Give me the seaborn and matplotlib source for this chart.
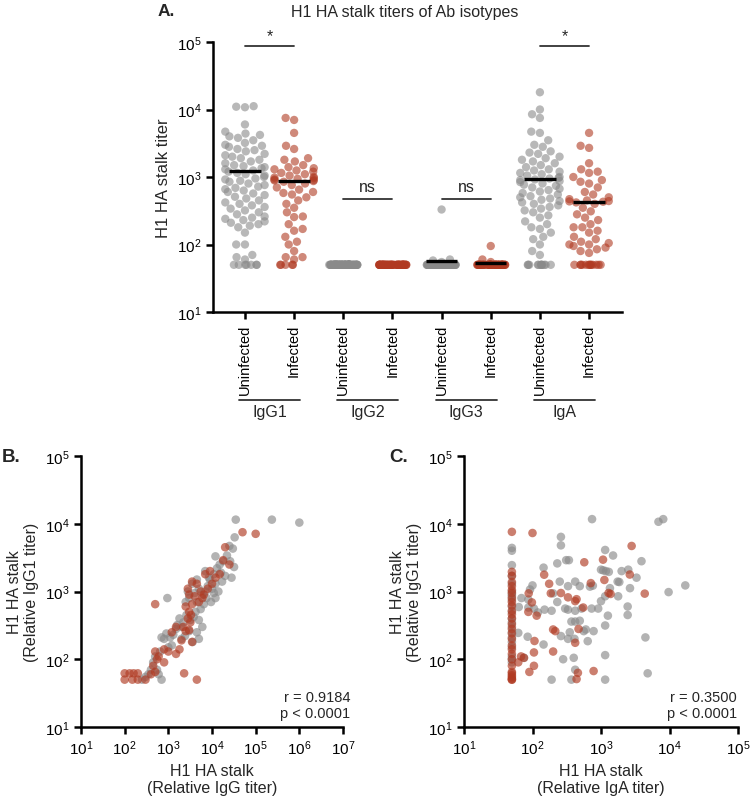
import numpy as np
import pandas as pd
import seaborn as sns
import matplotlib.pyplot as plt
from matplotlib.ticker import LogLocator, NullLocator
from matplotlib.transforms import blended_transform_factory

GREY = "#8a8a8a"
RED = "#b03a22"
FLOOR = 50  # detection limit

isotypes = ["IgG1", "IgG2", "IgG3", "IgA"]
status = ["Uninfected", "Infected"]

# panel A: titers per isotype / group
igg1_uninf = [11000, 10800, 11200, 6000, 4700, 4400, 4200, 4000, 3800, 3500, 3200, 3000, 2900,
              2800, 2600, 2500, 2400, 2200, 2100, 2000, 1900, 1800, 1700, 1600, 1500, 1450,
              1400, 1350, 1300, 1250,
              1200, 1150, 1100, 1050, 1000, 950, 920, 880, 850, 800, 760, 720, 690, 660, 630,
              600, 570, 540, 510, 480, 450, 420, 400, 380, 360, 340, 320, 300, 280, 260, 250,
              240, 230, 220, 210, 200, 190, 180, 150, 100, 100, 70, 65, 60,
              50, 50, 50, 50, 50, 50, 50]
igg1_inf = [7500, 7000, 4500, 2900, 2600, 1900, 1800, 1700, 1500, 1400, 1350, 1300, 1250,
            1200, 1150, 1100, 1050, 1000, 980, 960, 940, 920, 900, 890,
            870, 850, 800, 760, 700, 650, 600, 580, 550, 500, 450, 400, 350, 300, 260, 255,
            200, 170, 160, 130, 110, 100, 80, 65, 65, 60, 50, 50, 50, 50, 50]
igg2_uninf = [50] * 92
igg2_inf = [50] * 57
igg3_uninf = [330, 60, 58, 55] + [50] * 88
igg3_inf = [95, 60, 55] + [50] * 54
iga_uninf = [18000, 10000, 8500, 7500, 4700, 4500, 3500, 3000, 2800, 2400, 2300, 2200, 2000,
             1900, 1800, 1700, 1600, 1500, 1400, 1300, 1250, 1200, 1150, 1100, 1050, 1000,
             970, 950,
             920, 900, 870, 840, 800, 770, 740, 700, 670, 640, 610, 580, 550, 520, 500, 480,
             460, 440, 420, 400, 380, 360, 340, 320, 300, 270, 250, 220, 200, 180, 170, 150,
             130, 120, 100, 80, 70, 50, 50, 50, 50, 50, 50, 50, 50, 50, 50, 50, 50]
iga_inf = [4500, 2900, 2700, 1600, 1300, 1200, 1150, 1000, 900, 850, 800, 700, 600, 550, 500,
           470, 450, 440, 435, 430,
           420, 400, 350, 310, 280, 250, 230, 200, 180, 180, 160, 150, 130, 120, 110, 105,
           100, 100, 95, 90, 85, 80, 75, 50, 50, 50, 50, 50, 50, 50, 50, 50, 50, 50, 50, 50]

center_lines = [1230, 880, np.nan, np.nan, 57, 53, 935, 430]
sig_pairs = [(0, 1, "*"), (2, 3, "ns"), (4, 5, "ns"), (6, 7, "*")]
sig_heights = [87000, 470, 470, 87000]

# panel B: IgG vs IgG1
b_uninf_igg = [35000, 235000, 1000000, 33000, 30000, 25000, 22000, 26000, 28000, 32000,
               18000, 15000, 12000, 13000, 16000, 20000, 11000, 9000, 8000, 10000, 14000,
               12000, 7000, 6000, 5000, 4000, 3500, 3000, 2800, 2500, 4500, 6500, 7500, 9500,
               11000, 5500, 4200, 3800, 3200, 2600, 2200, 2000, 1800, 1600, 5000, 6000, 4500,
               3000, 2400, 1500, 1300, 1100, 900, 800, 700, 1200, 950, 2000, 3600, 5000, 1000,
               650, 500, 450, 400, 350, 300, 250, 700, 550, 600, 12000, 17000, 8500, 7000, 4500]
b_uninf_igg1 = [11500, 11500, 10400, 6300, 4300, 4700, 3400, 2800, 1600, 2300,
                2800, 2500, 3300, 2200, 1900, 1700, 1800, 1500, 1200, 1100, 1000,
                800, 1000, 900, 1100, 950, 1300, 800, 1000, 700, 700, 650, 800, 700,
                950, 550, 500, 420, 380, 450, 350, 300, 400, 320, 380, 300, 250,
                260, 220, 280, 230, 210, 240, 200, 210, 160, 800, 200, 180, 200, 150,
                130, 110, 90, 70, 60, 55, 50, 50, 70, 60, 1300, 1400, 1600, 2000, 1500]
b_inf_igg = [50000, 100000, 20000, 18000, 25000, 15000, 12000, 9000, 7000, 10000, 8000, 6500,
             5500, 4500, 3500, 3000, 2800, 4000, 5000, 3500, 6000, 2500, 3000, 3300, 2800,
             3200, 2200, 3000, 2500, 1500, 1200, 3500, 2000, 1800, 1500, 1000, 800, 500, 600,
             500, 550, 450, 500, 400, 300, 200, 150, 100, 100, 130, 160, 200, 2300, 4500, 800]
b_inf_igg1 = [7500, 7100, 4500, 2900, 2500, 1800, 1600, 2000, 1800, 1300, 1100, 900,
              1000, 1300, 1400, 900, 1100, 850, 700, 650, 800, 600, 500, 450, 400,
              350, 300, 270, 260, 300, 250, 180, 190, 140, 120, 130, 140, 650, 110,
              130, 100, 80, 65, 60, 50, 50, 50, 50, 62, 62, 62, 62, 62, 50, 90]

# panel C: IgA vs IgG1
c_uninf_iga = [50] * 21 + [
    740, 6900, 8100, 17000, 9700, 260, 260, 310, 340, 230, 145, 1150, 1500, 1000, 1080, 1180,
    1300, 2000, 2500, 3900, 3300, 1750, 1850, 1150, 1350, 2650, 1780, 690, 760, 330, 250, 420,
    490, 200, 100, 92, 69, 87, 63, 87, 105, 150, 120, 190, 300, 420, 230, 330, 520, 730, 910,
    1000, 370, 420, 490, 600, 1260, 1150, 2450, 780, 560, 350, 410, 330, 640, 260, 145, 85, 62,
    75, 400, 1150, 4450, 4800, 190, 370, 1150, 280, 420, 2450]
c_uninf_igg1 = [4400, 4000, 2450, 1700, 1300, 1000, 900, 850, 750, 600, 500, 400, 350, 300,
                250, 210, 180, 150, 110, 100, 90,
                11700, 10700, 11700, 1230, 980, 6400, 4800, 2900, 2900, 2600, 2250, 4100, 3400,
                2100, 2050, 2000, 1950, 2000, 2100, 2800, 1600, 1400, 1380, 850, 1120, 1120,
                850, 1180, 1220, 1200, 1400, 1400, 1200, 940, 1230, 1070, 800, 760, 590, 580,
                560, 540, 490, 520, 560, 520, 700, 540, 560, 560, 560, 720, 360, 360, 370, 275,
                440, 315, 450, 260, 260, 250, 200, 200, 185, 220, 165, 215, 245, 105, 105, 115,
                210, 62, 50, 50, 50, 100, 70, 600]
c_inf_iga = [50] * 29 + [
    100, 88, 98, 87, 115, 107, 105, 105, 90, 62, 68, 75, 148, 175, 185, 200, 215, 200, 260, 330,
    420, 440, 470, 420, 460, 440, 570, 550, 710, 780, 1070, 1120, 1290, 1380, 2800, 2630, 4350]
c_inf_igg1 = [7600, 1950, 1700, 1380, 1200, 1050, 950, 800, 700, 620, 520, 460, 400, 330, 280,
              240, 200, 160, 140, 120, 100, 80, 65, 62, 58, 55, 52, 50, 50,
              7300, 940, 690, 500, 440, 186, 126, 80, 65, 90, 110, 105, 1770, 1300, 940, 275,
              260, 130, 950, 820, 720, 770, 280, 175, 63, 51, 2700, 580, 1330, 67, 2950, 1480,
              950, 920, 4700, 1780, 930]

sns.set_theme(style="ticks")
plt.rcParams["font.family"] = ["Liberation Sans", "DejaVu Sans"]
plt.rcParams["mathtext.fontset"] = "custom"
plt.rcParams["mathtext.rm"] = "Liberation Sans"
plt.rcParams["mathtext.it"] = "Liberation Sans:italic"
plt.rcParams["mathtext.bf"] = "Liberation Sans:bold"
palette = {"Uninfected": GREY, "Infected": RED}
np.random.seed(3)  # only for the jitter of the points sitting on the detection limit

W, H = 750, 803
fig = plt.figure(figsize=(W / 100, H / 100), dpi=100)


def px_axes(left, top, right, bottom):
    return fig.add_axes([left / W, 1 - bottom / H, (right - left) / W, (bottom - top) / H])


def style_axes(ax):
    sns.despine(ax=ax)
    for s in ("left", "bottom"):
        ax.spines[s].set_linewidth(1.8)
        ax.spines[s].set_color("black")
    ax.tick_params(direction="out", length=5, width=1.8, labelsize=11, colors="black")


# ---------- panel A ----------
axA = px_axes(213, 43, 622, 313)
groups = [igg1_uninf, igg1_inf, igg2_uninf, igg2_inf, igg3_uninf, igg3_inf, iga_uninf, iga_inf]
order = [f"{iso} {st}" for iso in isotypes for st in status]
rows = []
for name, vals in zip(order, groups):
    st = name.split(" ")[1]
    rows += [{"group": name, "status": st, "titer": v} for v in vals]
dfA = pd.DataFrame(rows)
common = dict(x="group", y="titer", hue="status", order=order, hue_order=status,
              palette=palette, size=6, alpha=0.6, linewidth=0, log_scale=True,
              legend=False, ax=axA)

# values at the detection limit pile up into a band
sns.stripplot(data=dfA[dfA["titer"] == FLOOR], jitter=0.3, **common)
n_before = len(axA.collections)
sns.swarmplot(data=dfA[dfA["titer"] > FLOOR], warn_thresh=1, **common)

# squeeze the swarms a bit so the columns are as narrow as in the original figure
for coll in axA.collections[n_before:]:
    off = coll.get_offsets()
    if len(off):
        ctr = np.round(off[:, 0])
        off[:, 0] = ctr + (off[:, 0] - ctr) * 0.8
        coll.set_offsets(off)

for i, v in enumerate(center_lines):
    if not np.isnan(v):
        axA.hlines(v, i - 0.32, i + 0.32, color="black", lw=2.4, zorder=5)

for (a, b, lab), h in zip(sig_pairs, sig_heights):
    axA.plot([a, b], [h, h], color="#333333", lw=1.3, clip_on=False)
    axA.annotate(lab, (0.5 * (a + b), h), xytext=(0, 2 if lab == "*" else 4),
                 textcoords="offset points", ha="center", va="bottom", fontsize=11.5)

axA.set_xlim(-0.65, 7.67)
axA.set_ylim(10, 1e5)
axA.yaxis.set_major_locator(LogLocator(base=10, numticks=10))
axA.yaxis.set_minor_locator(NullLocator())
style_axes(axA)
axA.set_xticks(range(len(order)))
axA.set_xticklabels([o.split(" ")[1] for o in order], rotation=90, fontsize=10.5)
axA.set_xlabel("")
axA.set_ylabel("H1 HA stalk titer", fontsize=12)

tr = blended_transform_factory(axA.transData, axA.transAxes)
for k, iso in enumerate(isotypes):
    c = 2 * k + 0.5
    axA.plot([c - 0.62, c + 0.62], [-0.326, -0.326], color="#333333", lw=1.3,
             transform=tr, clip_on=False)
    axA.text(c, -0.368, iso, transform=tr, ha="center", va="center", fontsize=11.5)

fig.text(405 / W, 1 - 12 / H, "H1 HA stalk titers of Ab isotypes", ha="center", va="center",
         fontsize=11.5)
fig.text(166 / W, 1 - 12 / H, "A.", ha="center", va="center", fontsize=12.5, weight="bold")


# ---------- panels B and C ----------
def corr_panel(ax, xu, yu, xi, yi, xmax, xlab, stats):
    df = pd.DataFrame({
        "x": list(xu) + list(xi),
        "y": list(yu) + list(yi),
        "status": ["Uninfected"] * len(xu) + ["Infected"] * len(xi),
    })
    sns.scatterplot(data=df, x="x", y="y", hue="status", palette=palette, s=38, alpha=0.65,
                    linewidth=0, legend=False, ax=ax)
    ax.set_xscale("log")
    ax.set_yscale("log")
    ax.set_xlim(10, xmax)
    ax.set_ylim(10, 1e5)
    for axis in (ax.xaxis, ax.yaxis):
        axis.set_major_locator(LogLocator(base=10, numticks=12))
        axis.set_minor_locator(NullLocator())
    style_axes(ax)
    ax.set_xlabel(xlab, fontsize=11.5, linespacing=1.15)
    ax.set_ylabel("H1 HA stalk\n(Relative IgG1 titer)", fontsize=11.5, linespacing=1.15)
    ax.text(stats[0], 0.08, stats[1], transform=ax.transAxes, ha="right", va="center",
            fontsize=10.5, linespacing=1.2)


axB = px_axes(81, 457, 343, 728)
corr_panel(axB, b_uninf_igg, b_uninf_igg1, b_inf_igg, b_inf_igg1, 1e7,
           "H1 HA stalk\n(Relative IgG titer)", (1.027, "r = 0.9184\np < 0.0001"))
axC = px_axes(464, 457, 738, 728)
corr_panel(axC, c_uninf_iga, c_uninf_igg1, c_inf_iga, c_inf_igg1, 1e5,
           "H1 HA stalk\n(Relative IgA titer)", (0.996, "r = 0.3500\np < 0.0001"))

fig.text(11 / W, 1 - 458 / H, "B.", ha="center", va="center", fontsize=13.5, weight="bold")
fig.text(399 / W, 1 - 458 / H, "C.", ha="center", va="center", fontsize=13.5, weight="bold")

fig.savefig("out.png", dpi=100)
